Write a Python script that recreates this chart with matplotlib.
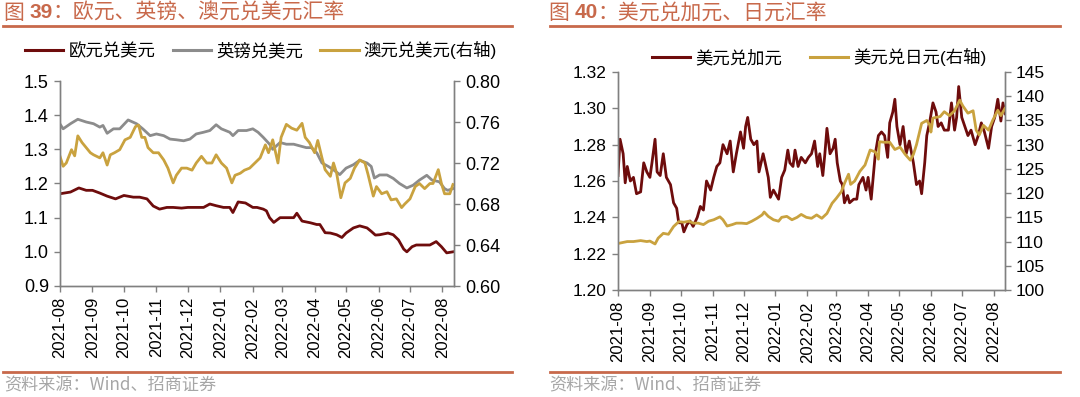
import matplotlib
matplotlib.use("Agg")
import matplotlib.pyplot as plt
import matplotlib.dates as mdates
from matplotlib.ticker import FormatStrFormatter, MultipleLocator
from matplotlib.transforms import IdentityTransform
from matplotlib.lines import Line2D
import pandas as pd

START = "2021-08-01"

# ---- data: (days since 2021-08-01, value) ----
eur_usd = [(0,1.170),(10,1.175),(18,1.187),(25,1.180),(31,1.180),(38,1.172),(45,1.163),(53,1.155),
           (61,1.165),(70,1.160),(76,1.160),(83,1.155),(89,1.134),(95,1.125),(102,1.130),(108,1.130),
           (116,1.128),(122,1.130),(130,1.130),(137,1.130),(143,1.140),(149,1.135),(156,1.130),(162,1.130),
           (165,1.115),(170,1.146),(177,1.143),(184,1.130),(188,1.130),(194,1.125),(197,1.120),(200,1.100),
           (204,1.086),(210,1.100),(216,1.100),(223,1.100),(226,1.113),(231,1.090),(239,1.085),(245,1.080),
           (248,1.080),(253,1.056),(258,1.055),(264,1.050),(269,1.042),(273,1.055),(280,1.070),(286,1.076),
           (293,1.070),(297,1.060),(301,1.049),(305,1.050),(313,1.055),(318,1.050),(323,1.035),(328,1.008),
           (331,1.000),(336,1.015),(340,1.020),(347,1.020),(353,1.020),(359,1.030),(364,1.015),(369,0.997),
           (375,1.000)]

gbp_usd = [(0,1.374),(3,1.360),(10,1.375),(17,1.388),(25,1.380),(32,1.375),(38,1.365),(41,1.370),
           (45,1.347),(51,1.360),(57,1.360),(65,1.386),(73,1.375),(79,1.360),(86,1.340),(92,1.345),
           (99,1.340),(105,1.330),(111,1.328),(118,1.325),(124,1.330),(130,1.345),(137,1.350),(143,1.355),
           (149,1.372),(154,1.360),(162,1.350),(165,1.340),(170,1.355),(178,1.355),(184,1.360),(189,1.350),
           (194,1.335),(200,1.315),(203,1.300),(210,1.320),(216,1.315),(223,1.315),(229,1.310),(235,1.305),
           (240,1.305),(245,1.290),(250,1.260),(256,1.250),(261,1.240),(267,1.226),(273,1.245),(280,1.255),
           (286,1.268),(293,1.260),(297,1.250),(300,1.216),(305,1.225),(312,1.225),(318,1.215),(324,1.200),
           (331,1.187),(337,1.195),(343,1.210),(350,1.224),(355,1.210),(362,1.205),(367,1.185),(370,1.180),
           (375,1.185)]

aud_usd = [(0,0.7265),(3,0.7168),(6,0.720),(11,0.733),(14,0.727),(17,0.7465),(21,0.740),(25,0.735),
           (29,0.730),(32,0.728),(38,0.725),(41,0.730),(45,0.718),(48,0.728),(52,0.730),(57,0.733),
           (62,0.7426),(67,0.745),(72,0.7555),(75,0.757),(78,0.745),(81,0.745),(84,0.735),(89,0.730),
           (94,0.730),(99,0.723),(103,0.715),(108,0.7006),(111,0.708),(116,0.715),(121,0.715),(126,0.713),
           (130,0.720),(135,0.7265),(140,0.720),(145,0.720),(149,0.728),(154,0.720),(159,0.715),(164,0.7006),
           (167,0.708),(172,0.710),(176,0.713),(181,0.715),(186,0.720),(191,0.725),(196,0.7377),(199,0.730),
           (203,0.7426),(208,0.720),(211,0.745),(216,0.7577),(221,0.754),(226,0.752),(231,0.7587),(234,0.745),
           (238,0.740),(243,0.730),(246,0.742),(250,0.725),(253,0.7135),(258,0.707),(261,0.720),(264,0.710),
           (268,0.6861),(272,0.7006),(277,0.705),(281,0.715),(286,0.723),(291,0.720),(294,0.7087),(299,0.6877),
           (302,0.697),(307,0.690),(312,0.692),(316,0.684),(321,0.685),(326,0.6765),(329,0.680),(334,0.685),
           (339,0.697),(343,0.700),(348,0.695),(353,0.700),(356,0.700),(361,0.7135),(364,0.700),(367,0.690),
           (372,0.690),(375,0.699)]

usd_cad = [(0,1.263),(2,1.283),(5,1.275),(7,1.259),(9,1.268),(12,1.260),(15,1.262),(18,1.253),
           (22,1.254),(25,1.270),(28,1.265),(31,1.262),(33,1.270),(36,1.283),(38,1.265),(41,1.263),
           (44,1.275),(47,1.262),(51,1.258),(54,1.248),(57,1.245),(59,1.237),(62,1.237),(64,1.232),
           (67,1.236),(70,1.238),(73,1.235),(77,1.240),(80,1.246),(83,1.244),(86,1.260),(90,1.255),
           (93,1.262),(96,1.268),(99,1.270),(102,1.280),(106,1.275),(109,1.282),(112,1.265),(115,1.275),
           (119,1.287),(122,1.278),(124,1.290),(126,1.295),(129,1.283),(132,1.280),(135,1.282),(137,1.265),
           (141,1.275),(143,1.270),(146,1.262),(148,1.251),(151,1.255),(156,1.250),(159,1.262),(162,1.266),
           (165,1.277),(167,1.270),(170,1.268),(172,1.277),(175,1.268),(178,1.273),(182,1.270),(185,1.273),
           (188,1.275),(191,1.282),(194,1.268),(196,1.275),(199,1.263),(201,1.275),(203,1.289),(206,1.275),
           (209,1.278),(211,1.283),(213,1.270),(216,1.260),(218,1.258),(220,1.248),(223,1.252),(225,1.248),
           (229,1.250),(232,1.250),(234,1.258),(238,1.262),(241,1.255),(243,1.262),(246,1.250),(250,1.275),
           (253,1.285),(256,1.287),(259,1.285),(262,1.273),(264,1.292),(267,1.298),(269,1.305),(271,1.290),
           (274,1.280),(277,1.290),(280,1.275),(283,1.282),(287,1.270),(290,1.258),(293,1.260),(295,1.253),
           (298,1.270),(300,1.285),(303,1.293),(306,1.303),(309,1.298),(311,1.290),(314,1.292),(317,1.288),
           (321,1.288),(324,1.303),(327,1.288),(329,1.295),(331,1.312),(334,1.295),(337,1.290),(340,1.285),
           (343,1.288),(347,1.280),(350,1.285),(353,1.292),(356,1.287),(360,1.278),(363,1.290),(366,1.295),
           (369,1.305),(372,1.293),(374,1.303),(376,1.297)]

usd_jpy = [(0,109.6),(9,110.0),(15,110.0),(22,110.2),(28,110.0),(31,110.1),(36,109.5),(39,110.7),
           (44,111.7),(49,111.5),(54,113.1),(59,114.1),(64,114.0),(69,114.2),(73,113.8),(78,113.8),
           (83,113.5),(88,114.2),(93,114.5),(99,115.1),(102,114.5),(106,113.2),(111,113.5),(115,113.8),
           (120,113.8),(125,113.7),(130,114.2),(135,114.8),(140,115.5),(142,116.1),(146,115.2),(151,114.5),
           (156,114.2),(159,115.0),(164,115.2),(169,114.5),(174,115.0),(178,115.6),(183,115.0),(188,114.8),
           (193,115.5),(198,114.8),(203,115.8),(208,117.9),(212,118.9),(217,120.3),(220,122.0),(224,123.9),
           (226,121.8),(230,122.5),(235,124.5),(240,125.8),(245,128.9),(250,128.5),(253,127.0),(254,130.6),
           (259,130.5),(264,130.5),(269,129.0),(274,129.5),(279,128.0),(284,126.8),(287,128.0),(290,130.0),
           (295,134.4),(300,135.0),(303,134.0),(304,132.6),(306,135.5),(313,135.8),(317,136.8),(322,136.0),
           (327,137.0),(332,139.2),(335,138.0),(340,136.5),(345,137.0),(348,133.0),(351,132.0),(355,134.0),
           (360,133.0),(364,135.0),(369,137.1),(372,136.0),(376,137.5)]

titles = [("39", "：欧元、英镑、澳元兑美元汇率"), ("40", "：美元兑加元、日元汇率")]
legend1 = ["欧元兑美元", "英镑兑美元", "澳元兑美元(右轴)"]
legend2 = ["美元兑加元", "美元兑日元(右轴)"]
source = "资料来源：Wind、招商证券"

# ---- style ----
C_RED = "#6E0C0C"
C_GRAY = "#8C8C8C"
C_GOLD = "#C9A23F"
C_TITLE = "#C8694B"
C_SPINE = "#808080"
LAT = ["Liberation Sans", "Noto Sans CJK SC"]
CJK = ["Noto Sans CJK SC", "DejaVu Sans"]
plt.rcParams["font.family"] = LAT

W, H = 1080, 397
fig = plt.figure(figsize=(W / 100, H / 100), dpi=100)


def split(pairs):
    d = pd.Timestamp(START) + pd.to_timedelta([p[0] for p in pairs], unit="D")
    return d, [p[1] for p in pairs]


def style(ax, axr, xmax_days, ysize):
    for a in (ax, axr):
        a.spines["top"].set_visible(False)
        for s in ("left", "right", "bottom"):
            a.spines[s].set_color(C_SPINE)
            a.spines[s].set_linewidth(1.0)
        a.tick_params(direction="out", length=4, width=1, color=C_SPINE,
                      labelsize=ysize, labelcolor="black", pad=4)
    ax.tick_params(axis="x", labelsize=12)
    ax.set_xlim(pd.Timestamp(START), pd.Timestamp(START) + pd.Timedelta(days=xmax_days))
    ax.xaxis.set_major_locator(mdates.MonthLocator())
    ax.xaxis.set_major_formatter(mdates.DateFormatter("%Y-%m"))
    for lab in ax.get_xticklabels():
        lab.set_rotation(90)


# ---- left panel ----
ax1 = fig.add_axes([60 / W, 1 - 286 / H, (454 - 60) / W, (286 - 81) / H])
ax1r = ax1.twinx()
d, v = split(eur_usd)
ax1.plot(d, v, color=C_RED, lw=2.0)
d, v = split(gbp_usd)
ax1.plot(d, v, color=C_GRAY, lw=2.0)
d, v = split(aud_usd)
ax1r.plot(d, v, color=C_GOLD, lw=2.0)
ax1.set_ylim(0.9, 1.5)
ax1.yaxis.set_major_locator(MultipleLocator(0.1))
ax1.yaxis.set_major_formatter(FormatStrFormatter("%.1f"))
ax1r.set_ylim(0.60, 0.80)
ax1r.yaxis.set_major_locator(MultipleLocator(0.04))
ax1r.yaxis.set_major_formatter(FormatStrFormatter("%.2f"))
style(ax1, ax1r, 376, 13)

# ---- right panel ----
ax2 = fig.add_axes([618 / W, 1 - 290 / H, (1005 - 618) / W, (290 - 72) / H])
ax2r = ax2.twinx()
d, v = split(usd_cad)
ax2.plot(d, v, color=C_RED, lw=2.0)
d, v = split(usd_jpy)
ax2r.plot(d, v, color=C_GOLD, lw=2.0)
ax2.set_ylim(1.20, 1.32)
ax2.yaxis.set_major_locator(MultipleLocator(0.02))
ax2.yaxis.set_major_formatter(FormatStrFormatter("%.2f"))
ax2r.set_ylim(100, 145)
ax2r.yaxis.set_major_locator(MultipleLocator(5))
ax2r.yaxis.set_major_formatter(FormatStrFormatter("%d"))
style(ax2, ax2r, 376, 12.5)

# ---- legends ----
h1 = [Line2D([], [], color=c, lw=2.2) for c in (C_RED, C_GRAY, C_GOLD)]
fig.legend(h1, legend1, loc="center", bbox_to_anchor=(261 / W, 1 - 50 / H), ncol=3,
           frameon=False, prop={"family": LAT, "size": 12.5}, handlelength=2.2,
           handletextpad=0.3, columnspacing=1.0, borderaxespad=0, borderpad=0)
h2 = [Line2D([], [], color=c, lw=2.2) for c in (C_RED, C_GOLD)]
fig.legend(h2, legend2, loc="center", bbox_to_anchor=(819 / W, 1 - 57 / H), ncol=2,
           frameon=False, prop={"family": LAT, "size": 12.5}, handlelength=2.2,
           handletextpad=0.3, columnspacing=1.6, borderaxespad=0, borderpad=0)

# ---- titles, rules, source ----
fig.canvas.draw()
renderer = fig.canvas.get_renderer()
idt = IdentityTransform()


def title(x0, num, rest):
    y = H - 13
    t = fig.text(x0, y, "图 ", transform=idt, va="center", ha="left",
                 family=CJK, fontsize=15, color=C_TITLE)
    x = t.get_window_extent(renderer).x1
    t = fig.text(x, y, num, transform=idt, va="center", ha="left",
                 family=LAT, fontsize=15, weight="bold", color=C_TITLE)
    x = t.get_window_extent(renderer).x1
    fig.text(x, y, rest, transform=idt, va="center", ha="left",
             family=CJK, fontsize=15, color=C_TITLE)


title(4, *titles[0])
title(549, *titles[1])

for (xa, xb) in ((3, 512), (550, 1060)):
    fig.add_artist(Line2D([xa / W, xb / W], [1 - 26 / H, 1 - 26 / H], transform=fig.transFigure,
                          color=C_TITLE, lw=2.0))
    fig.add_artist(Line2D([xa / W, xb / W], [1 - 372 / H, 1 - 372 / H], transform=fig.transFigure,
                          color=C_TITLE, lw=2.0))

fig.text(4 / W, 1 - 385 / H, source, va="center", ha="left", family=CJK, fontsize=12.3, color="#A6A6A6")
fig.text(549 / W, 1 - 385 / H, source, va="center", ha="left", family=CJK, fontsize=12.3, color="#A6A6A6")

fig.savefig("out.png", dpi=100)
